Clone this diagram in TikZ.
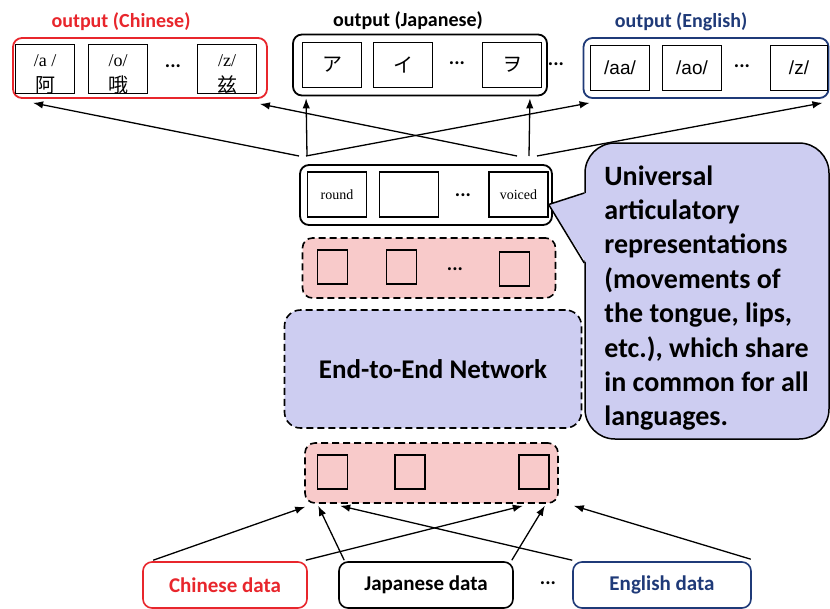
\documentclass[tikz,border=0pt]{standalone}
\usepackage{fontspec}
\setmainfont{Carlito}
\newfontfamily\phonf{Liberation Serif}
\newfontfamily\phonsf{Liberation Sans}
\newfontfamily\zhf{Noto Sans CJK SC}
\newfontfamily\jaf{Noto Sans CJK JP}
\usetikzlibrary{positioning, calc, arrows.meta}
\definecolor{zhred}{HTML}{E8262C}
\definecolor{ennavy}{HTML}{1F3A78}
\definecolor{layerpink}{HTML}{F8CACA}
\definecolor{netlav}{HTML}{CDCDF1}
\newcommand{\HeadF}{\fontsize{20}{23}\selectfont\bfseries}
\newcommand{\DataF}{\fontsize{21}{25}\selectfont\bfseries}
\newcommand{\NetF}{\fontsize{27}{30}\selectfont\bfseries}
\newcommand{\NoteF}{\fontsize{28}{34.4}\selectfont\bfseries}
\newcommand{\PhonF}{\fontsize{18}{26}\selectfont\phonf}
\newcommand{\PhonSF}{\fontsize{19}{22}\selectfont\phonsf}
\newcommand{\TagF}{\fontsize{14}{16}\selectfont\phonf}
\newcommand{\DotsF}{\fontsize{20}{22}\selectfont\bfseries}
\newcommand{\Glyph}{\fontsize{20}{26}\selectfont}

\tikzset{
  group/.style={draw=#1, line width=1.8pt, rounded corners=9pt, inner sep=0pt,
                minimum height=60pt},
  group/.default=black,
  cell/.style={draw, line width=1.3pt, inner sep=0pt, minimum width=59pt,
               minimum height=45pt, align=center, font=\PhonF},
  layer/.style={draw, dash pattern=on 7pt off 4pt, line width=1.6pt,
                rounded corners=10pt, fill=layerpink, inner sep=0pt,
                minimum width=253pt, minimum height=60pt},
  unit/.style={draw, line width=1.1pt, inner sep=0pt, minimum width=30pt,
               minimum height=34pt},
  datab/.style={draw=#1, text=#1, line width=1.6pt, rounded corners=9pt,
                inner sep=0pt, minimum height=46pt, font=\DataF},
  headlbl/.style={inner sep=0pt, font=\HeadF},
  dots/.style={inner sep=0pt, font=\DotsF},
  arr/.style={-{Latex[length=10pt,width=7.5pt]}, line width=1.3pt},
}

\begin{document}
\begin{tikzpicture}[x=1pt, y=-1pt]
  \useasboundingbox (0,0) rectangle (830,608);

  % output groups
  \node[group=zhred, minimum width=254pt] (chOut) at (140,68) {};
  \node[cell] (chA) at (45,69) {\rule{0pt}{22pt}/a /\\{\zhf\Glyph 阿}};
  \node[cell] (chO) at (118,69) {\rule{0pt}{22pt}/o/\\{\zhf\Glyph 哦}};
  \node[dots] (chDots) at (173,66) {...};
  \node[cell] (chZ) at (227,69) {\rule{0pt}{22pt}/z/\\{\zhf\Glyph 兹}};
  \node[headlbl, text=zhred] (chHead) at (121,22) {output (Chinese)};

  \node[group, minimum width=254pt, minimum height=61pt] (jaOut) at (420,65) {};
  \node[cell] (jaA) at (332,65) {\jaf\Glyph ア};
  \node[cell] (jaI) at (403,65) {\jaf\Glyph イ};
  \node[dots] (jaDots) at (457,63) {...};
  \node[cell] (jaWo) at (512,65) {\jaf\Glyph ヲ};
  \node[headlbl] (jaHead) at (408,21) {output (Japanese)};
  \node[dots] (outDots) at (556,64) {...};

  \node[group=ennavy, minimum width=245pt] (enOut) at (706,68) {};
  \node[cell, font=\PhonSF] (enAa) at (620,68) {/aa/};
  \node[cell, font=\PhonSF] (enAo) at (692,68) {/ao/};
  \node[dots] (enDots) at (742,66) {...};
  \node[cell, font=\PhonSF, minimum width=57pt] (enZ) at (799,68) {/z/};
  \node[headlbl, text=ennavy] (enHead) at (681,22) {output (English)};

  % articulatory feature layer
  \node[group, minimum width=252pt] (feat) at (426,195) {};
  \node[cell, font=\TagF] (round) at (337,194.5) {round};
  \node[cell] (blank) at (409,194.5) {};
  \node[dots] (featDots) at (463,195) {...};
  \node[cell, font=\TagF] (voiced) at (518.5,194.5) {voiced};

  % hidden layers and network
  \node[layer] (topLayer) at (429,268) {};
  \node[unit] (t1) at (332.5,267) {};
  \node[unit] (t2) at (401.5,267) {};
  \node[dots] (tDots) at (455,269) {...};
  \node[unit] (t3) at (514.5,269) {};

  \node[draw, dash pattern=on 7pt off 4pt, line width=1.6pt, rounded corners=16pt,
        fill=netlav, minimum width=297pt, minimum height=118pt, font=\NetF]
        (net) at (433,369) {End-to-End Network};

  \node[layer] (botLayer) at (431.5,473) {};
  \node[unit] (b1) at (332.5,472) {};
  \node[unit] (b2) at (410,472) {};
  \node[unit] (b3) at (534,472) {};

  % input data
  \node[datab=zhred, minimum width=164pt] (zhData) at (225,585) {Chinese data};
  \node[datab=black, minimum width=174pt] (jaData) at (426,585) {Japanese data};
  \node[dots] (dataDots) at (548,583) {...};
  \node[datab=ennavy, minimum width=178pt] (enData) at (662,585) {English data};

  % speech bubble
  \node[draw, line width=1.5pt, rounded corners=30pt, fill=netlav,
        minimum width=244pt, minimum height=296pt] (bubble) at (707,291) {};
  \coordinate (tip) at ([yshift=-10pt]voiced.east);
  \fill[netlav] (tip) -- ([shift={(2pt,98pt)}]bubble.west)
    -- ([shift={(2pt,28pt)}]bubble.west) -- cycle;
  \draw[line width=1.5pt] ([yshift=98pt]bubble.west) -- (tip)
    -- ([yshift=28pt]bubble.west);
  \node[anchor=north west, inner sep=0pt, align=left, font=\NoteF] (note)
    at ([shift={(20pt,-23pt)}]bubble.north west)
    {Universal\\articulatory\\representations\\(movements of\\the tongue, lips,\\
     etc.), which share\\in common for all\\languages.};

  % feature layer to outputs
  \coordinate (fanA) at (303,156);
  \coordinate (fanB) at (528,156);
  \draw[arr] ([xshift=-4pt]fanA) -- ([shift={(21pt,-4pt)}]chOut.south west);
  \draw[arr] ([xshift=4pt]fanA) -- ([shift={(14pt,-2pt)}]jaOut.south west);
  \draw[arr] ([xshift=3pt]fanA) -- ([shift={(7pt,-4pt)}]enOut.south west);
  \draw[arr] ([xshift=-11pt]fanB) -- ([shift={(-8pt,-5pt)}]chOut.south east);
  \draw[arr] ([xshift=1pt]fanB) -- ([shift={(-18pt,-2pt)}]jaOut.south east);
  \draw[arr] ([xshift=9pt]fanB) -- ([shift={(-7pt,-4pt)}]enOut.south east);

  % inputs to bottom layer
  \draw[arr] ([shift={(11pt,1pt)}]zhData.north west) -- ([shift={(1pt,-3pt)}]botLayer.south west);
  \draw[arr] ([shift={(-2pt,1pt)}]zhData.north east) -- ([shift={(-36pt,-2pt)}]botLayer.south east);
  \draw[arr] ([shift={(6pt,1pt)}]jaData.north west) -- ([shift={(14pt,-2pt)}]botLayer.south west);
  \draw[arr] ([shift={(-2pt,1pt)}]jaData.north east) -- ([shift={(-14pt,-2pt)}]botLayer.south east);
  \draw[arr] ([shift={(0pt,1pt)}]enData.north west) -- ([shift={(36pt,-2pt)}]botLayer.south west);
  \draw[arr] ([shift={(-1pt,2pt)}]enData.north east) -- ([shift={(15pt,-2pt)}]botLayer.south east);
\end{tikzpicture}
\end{document}
